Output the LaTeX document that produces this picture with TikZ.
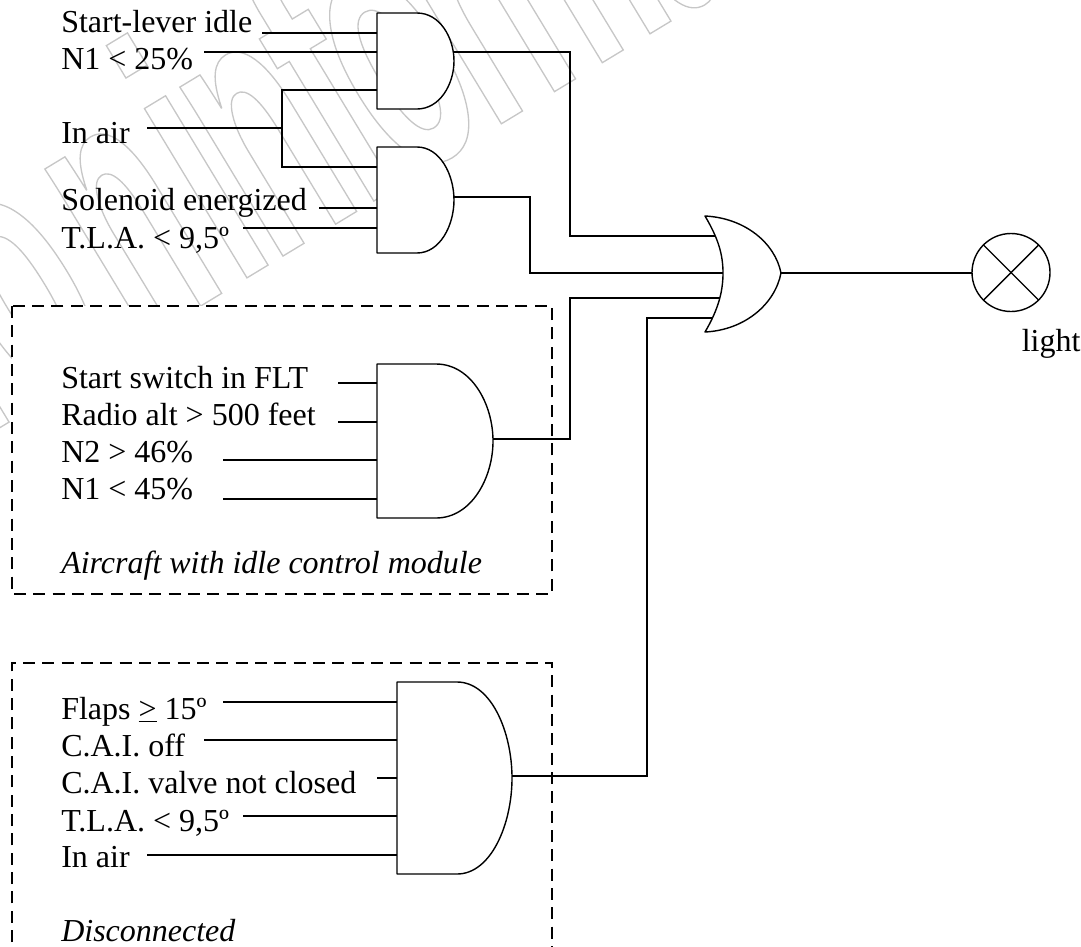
\documentclass[tikz,border=0pt]{standalone}
\usepackage{fontspec}
\setmainfont{Liberation Serif}
\newfontfamily\wmfont[FakeStretch=0.48,LetterSpace=-2.15]{Liberation Sans Bold}
\newcommand{\wmtext}[1]{\special{pdf:code q 1 Tr 1 w 0.78 G}\fontsize{281}{281}\wmfont #1\special{pdf:code Q}}
\tikzset{
  wire/.style={draw=black,line width=1.05pt},
  gateshape/.style={draw=black,fill=white,line width=1.05pt,line join=round},
  lbl/.style={anchor=base west,inner sep=0pt,font=\fontsize{24}{28}\selectfont},
  ital/.style={lbl,font=\fontsize{24}{28}\selectfont\itshape},
  dashbox/.style={draw=black,fill=white,line width=1.05pt,dash pattern=on 9pt off 5.5pt},
  wmark/.style={anchor=base west,inner sep=0pt,rotate=31.2}
}
% name, left, top, right, bottom, x where the flat edges end
\newcommand{\andgate}[6]{%
  \path[gateshape] (#2,#3) -- (#6,#3)
     .. controls ({#6+0.62*(#4-#6)},#3) and (#4,{#3+0.26*(#5-#3)}) .. (#4,{0.5*(#3+#5)})
     .. controls (#4,{#5-0.26*(#5-#3)}) and ({#6+0.62*(#4-#6)},#5) .. (#6,#5)
     -- (#2,#5) -- cycle;
  \coordinate (#1) at (#2,{0.5*(#3+#5)});
}
\begin{document}
\begin{tikzpicture}[x=0.75pt,y=-0.75pt]
\useasboundingbox (0,0) rectangle (1081,946);

% watermark
\node[wmark] (wm1) at (-23,441.5) {\wmtext{ro}};
\node[wmark] (wm2) at (137,344.6) {\wmtext{n}};
\node[wmark] (wm3) at (236,284.5) {\wmtext{information}};

% dashed boxes
\path[dashbox] (12,306) rectangle (552,594);
\path[dashbox] (12,1000) -- (12,663) -- (552,663) -- (552,1000);

% labels
\node[lbl] (t1) at (61,32) {Start-lever idle};
\node[lbl] (t2) at (61,69) {N1 < 25\%};
\node[lbl] (t3) at (61,143) {In air};
\node[lbl] (t4) at (61,210) {Solenoid energized};
\node[lbl] (t5) at (61,248) {T.L.A. < 9,5º};
\node[lbl] (t6) at (61,388) {Start switch in FLT};
\node[lbl] (t7) at (61,425) {Radio alt > 500 feet};
\node[lbl] (t8) at (61,462) {N2 > 46\%};
\node[lbl] (t9) at (61,499) {N1 < 45\%};
\node[ital] (t10) at (61,573) {Aircraft with idle control module};
\node[lbl] (t11) at (61,719) {Flaps \underline{>} 15º};
\node[lbl] (t12) at (61,756) {C.A.I. off};
\node[lbl] (t13) at (61,793) {C.A.I. valve not closed};
\node[lbl] (t14) at (61,831) {T.L.A. < 9,5º};
\node[lbl] (t15) at (61,867) {In air};
\node[ital] (t16) at (61,941) {Disconnected};
\node[lbl] (t17) at (1021.5,351) {light};

% free ends of the input wires
\coordinate (a1) at (262,33);
\coordinate (a2) at (204,52);
\coordinate (a3) at (147,128);
\coordinate (a4) at (319,208);
\coordinate (a5) at (243,228);
\coordinate (b1) at (338,383);
\coordinate (b2) at (338,422);
\coordinate (b3) at (223,460);
\coordinate (b4) at (223,499);
\coordinate (c1) at (223,702);
\coordinate (c2) at (204,740);
\coordinate (c3) at (377,778);
\coordinate (c4) at (243,816);
\coordinate (c5) at (147,855);

% gate pins (left edges)
\coordinate (g1w) at (377,61);
\coordinate (g2w) at (377,200);
\coordinate (g3w) at (377,441);
\coordinate (g4w) at (397,778);
\coordinate (jn) at (282,128);

% input wires
\draw[wire] (a1) -- (a1 -| g1w);
\draw[wire] (a2) -- (a2 -| g1w);
\draw[wire] (a3) -- (jn);
\draw[wire] (jn) |- (377,90);
\draw[wire] (jn) |- (377,167);
\draw[wire] (a4) -- (a4 -| g2w);
\draw[wire] (a5) -- (a5 -| g2w);
\draw[wire] (b1) -- (b1 -| g3w);
\draw[wire] (b2) -- (b2 -| g3w);
\draw[wire] (b3) -- (b3 -| g3w);
\draw[wire] (b4) -- (b4 -| g3w);
\draw[wire] (c1) -- (c1 -| g4w);
\draw[wire] (c2) -- (c2 -| g4w);
\draw[wire] (c3) -- (c3 -| g4w);
\draw[wire] (c4) -- (c4 -| g4w);
\draw[wire] (c5) -- (c5 -| g4w);

% output wires
\coordinate (o1) at (454,52);
\coordinate (o2) at (454,197);
\coordinate (o3) at (493,439);
\coordinate (o4) at (512,776);
\coordinate (p1) at (730,236);
\coordinate (p2) at (730,273);
\coordinate (p3) at (730,298);
\coordinate (p4) at (730,318);
\draw[wire] (o1) -- (570,52) -- (570,236) -- (p1);
\draw[wire] (o2) -- (530,197) -- (530,273) -- (p2);
\draw[wire] (o3) -- (570,439) -- (570,298) -- (p3);
\draw[wire] (o4) -- (647,776) -- (647,318) -- (p4);

% gates
\andgate{g1}{377}{13}{454}{109}{417}
\andgate{g2}{377}{147}{454}{253}{417}
\andgate{g3}{377}{364}{493}{518}{436}
\andgate{g4}{397}{682}{512}{874}{457}

% OR gate
\path[gateshape] (705,216) .. controls (745,218) and (775,243) .. (781,273)
   .. controls (775,304) and (745,330) .. (705,332)
   .. controls (718,310) and (723,292) .. (723,273)
   .. controls (723,254) and (718,238) .. (705,216) -- cycle;
\coordinate (orout) at (781,273);

% lamp
\node[draw=black,fill=white,line width=1.05pt,circle,minimum size=58.5pt,inner sep=0pt,outer sep=0pt] (lamp) at (1011,272.5) {};
\draw[wire] (lamp.45) -- (lamp.225);
\draw[wire] (lamp.135) -- (lamp.315);
\draw[wire] (orout) -- (orout -| lamp.west);
\end{tikzpicture}
\end{document}
